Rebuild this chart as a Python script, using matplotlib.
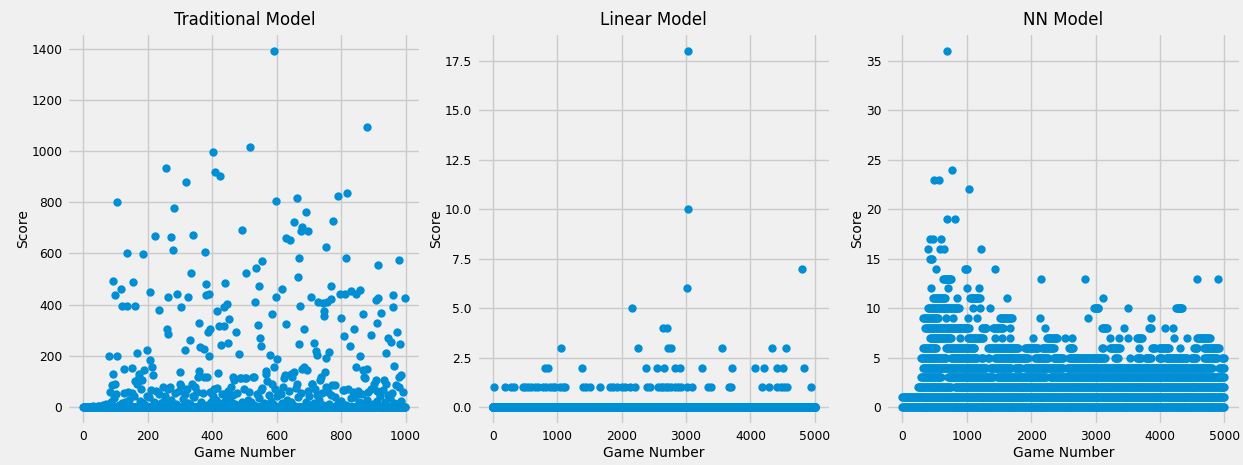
import numpy as np
import matplotlib
matplotlib.use('Agg')
import matplotlib.pyplot as plt

# --- Traditional model: 1000 games, score 0 unless listed ---
trad_n_games = 1000
trad_points = [
    (593, 1391), (879, 1095), (518, 1014), (404, 997), (256, 935), (409, 917),
    (425, 901), (320, 880), (623, 905), (677, 926), (791, 825), (819, 836),
    (104, 800), (599, 804), (662, 817), (282, 779), (690, 762), (946, 753),
    (654, 723), (775, 725), (680, 705), (677, 686), (696, 686), (918, 703),
    (492, 690), (224, 669), (272, 665), (342, 673), (466, 669), (418, 656),
    (628, 660), (640, 652), (280, 614), (379, 606), (135, 601), (184, 597),
    (754, 627), (979, 573), (809, 575), (816, 582), (670, 584), (554, 571),
    (151, 548), (166, 551), (855, 539), (946, 539), (535, 543), (466, 556),
    (915, 556), (506, 522), (335, 522), (665, 509), (92, 492), (155, 487),
    (382, 482), (440, 484), (117, 460), (99, 436), (207, 449), (769, 474),
    (544, 474), (617, 460), (797, 442), (813, 442), (832, 452), (846, 443),
    (860, 457), (980, 461), (263, 432), (324, 430), (292, 440), (380, 436),
    (389, 443), (597, 430), (705, 430), (908, 417), (913, 428), (960, 436),
    (997, 426), (125, 404), (136, 395), (119, 396), (161, 395), (236, 380),
    (303, 393), (415, 375), (437, 391), (446, 401), (520, 410), (533, 411),
    (566, 391), (585, 365), (728, 410), (743, 405), (757, 410), (768, 421),
    (671, 396), (746, 375), (747, 355), (800, 348), (855, 393), (866, 387),
    (867, 362), (925, 369), (962, 393), (911, 329), (358, 329), (388, 292),
    (394, 306), (420, 316), (438, 318), (451, 345), (467, 345), (475, 292),
    (541, 321), (550, 313), (630, 326), (648, 331), (686, 304), (839, 306),
    (808, 278), (894, 281), (946, 270), (973, 294), (956, 255), (984, 248),
    (158, 284), (259, 306), (262, 287), (332, 264), (427, 244), (449, 251),
    (316, 222), (363, 235), (375, 229), (547, 271), (551, 240), (668, 248),
    (716, 251), (826, 240), (940, 213), (857, 201), (79, 199), (105, 201),
    (390, 199), (464, 205), (484, 206), (503, 179), (602, 190), (580, 205),
    (721, 218), (725, 205), (763, 216), (752, 192), (166, 212), (197, 222),
    (208, 183), (212, 157), (215, 127), (301, 157), (300, 138), (91, 129),
    (127, 149), (151, 153), (160, 103), (174, 131), (190, 144), (304, 83),
    (337, 92), (355, 118), (359, 142), (383, 118), (418, 134), (466, 118),
    (485, 114), (503, 113), (528, 118), (568, 140), (570, 101), (625, 127),
    (648, 118), (653, 138), (679, 151), (694, 144), (710, 92), (734, 105),
    (751, 138), (782, 86), (805, 66), (845, 157), (869, 147), (881, 151),
    (875, 112), (907, 108), (912, 64), (902, 151), (933, 105), (964, 161),
    (980, 118), (978, 79), (90, 86), (103, 53), (84, 60), (100, 92),
    (125, 54), (150, 54), (172, 118), (182, 105), (167, 92), (209, 66),
    (234, 53), (270, 79), (301, 92), (317, 53), (348, 79), (374, 118),
    (416, 73), (436, 53), (467, 105), (488, 112), (464, 49), (395, 144),
    (504, 112), (529, 118), (566, 131), (592, 157), (587, 92), (623, 112),
    (643, 131), (664, 92), (685, 157), (711, 92), (737, 118), (753, 79),
    (773, 86), (809, 66), (840, 40), (871, 118), (902, 92), (939, 92),
    (970, 86), (985, 125), (944, 47), (882, 60), (726, 47), (612, 53),
    (550, 66),
    # mid-low cluster
    (140, 60), (178, 70), (198, 45), (226, 62), (246, 80), (264, 70),
    (284, 55), (296, 65), (322, 70), (340, 45), (352, 60), (370, 55),
    (392, 60), (406, 70), (430, 50), (448, 62), (458, 80), (478, 55),
    (498, 72), (515, 60), (538, 50), (556, 75), (575, 48), (596, 70),
    (606, 55), (620, 80), (638, 62), (660, 75), (674, 55), (698, 65),
    (720, 70), (740, 55), (758, 60), (770, 48), (790, 55), (822, 70),
    (836, 58), (852, 65), (866, 52), (892, 70), (918, 58), (930, 68),
    (958, 55), (992, 60),
    # low scores hugging the zero line
    (30, 3), (45, 5), (60, 8), (70, 12), (86, 20), (95, 35), (121, 15),
    (141, 30), (158, 45), (176, 25), (191, 10), (205, 38), (220, 20),
    (241, 15), (255, 42), (271, 28), (289, 12), (310, 33), (326, 18),
    (345, 40), (365, 22), (385, 8), (401, 45), (411, 30), (421, 15),
    (441, 25), (455, 38), (471, 12), (491, 20), (511, 30), (531, 10),
    (545, 35), (561, 18), (581, 25), (600, 42), (615, 15), (631, 28),
    (651, 10), (666, 38), (691, 22), (700, 45), (715, 15), (731, 30),
    (761, 12), (780, 40), (801, 25), (815, 8), (831, 35), (848, 50),
    (861, 18), (880, 30), (899, 12), (921, 42), (936, 20), (951, 35),
    (965, 15), (986, 25), (50, 6), (110, 10), (230, 8), (360, 6), (560, 5),
    (745, 7), (890, 9), (130, 22), (185, 18), (250, 25), (330, 12),
    (395, 20), (460, 15), (520, 22), (590, 14), (645, 20), (708, 10),
    (790, 18), (855, 22), (910, 25), (975, 12),
]

# --- Linear model: 5000 games, score 0 unless listed ---
lin_n_games = 5000
lin_points = [
    (16, 1), (182, 1), (286, 1), (327, 1), (467, 1), (494, 1), (545, 1),
    (597, 1), (649, 1), (701, 1), (779, 1), (831, 1), (883, 1), (935, 1),
    (971, 1), (1039, 1), (1091, 1), (1127, 1), (1402, 1), (1454, 1),
    (1506, 1), (1662, 1), (1818, 1), (1870, 1), (1921, 1), (1999, 1),
    (2051, 1), (2129, 1), (2207, 1), (2389, 1), (2441, 1), (2571, 1),
    (2612, 1), (2649, 1), (2690, 1), (2727, 1), (2768, 1), (2830, 1),
    (2882, 1), (2924, 1), (3012, 1), (3090, 1), (3339, 1), (3391, 1),
    (3672, 1), (3703, 1), (4180, 1), (4285, 1), (4414, 1), (4467, 1),
    (4518, 1), (4570, 1), (4934, 1),
    (805, 2), (857, 2), (1387, 2), (2379, 2), (2545, 2), (2652, 2),
    (2835, 2), (2908, 2), (3246, 2), (3713, 2), (4077, 2), (4217, 2),
    (4404, 2), (4503, 2), (4830, 2),
    (1064, 3), (2259, 3), (2716, 3), (2772, 3), (3557, 3), (4337, 3),
    (4545, 3),
    (2638, 4), (2700, 4), (2155, 5), (3022, 6), (4803, 7), (3025, 10),
    (3037, 18),
]

# --- NN model: runs of games sharing one score (start == end is one game) ---
nn_levels = [
    0, 1,
    2, 2,
    3, 3, 3, 3,
    4, 4, 4, 4, 4, 4,
    5, 5, 5, 5, 5, 5, 5, 5, 5, 5, 5, 5, 5, 5, 5, 5, 5, 5,
    6, 6, 6, 6, 6, 6, 6, 6, 6, 6, 6, 6, 6, 6,
    7, 7, 7, 7, 7, 7, 7, 7, 7, 7, 7, 7, 7, 7, 7, 7, 7, 7,
    8, 8, 8, 8, 8, 8, 8, 8, 8, 8,
    9, 9, 9, 9, 9, 9, 9, 9, 9,
    10, 10, 10, 10, 10, 10, 10,
    11, 11, 11, 11, 11,
    12, 12, 12, 12,
    13, 13, 13, 13, 13, 13,
    14, 14, 14,
    15, 16, 16, 16, 16, 17, 17, 17, 19, 19, 22, 23, 23, 24, 36,
]
nn_starts = [
    0, 0,
    244, 815,
    296, 711, 1465, 2295,
    322, 1361, 1750, 1906, 2560, 4918,
    296, 763, 1220, 1335, 1439, 2062, 2347, 2581, 3308, 3541, 3775, 3983, 4087, 4476, 4684, 2399, 4960, 3650,
    322, 685, 1335, 1906, 2165, 2581, 3100, 3230, 3671, 3879, 3983, 4310, 4528, 4684,
    425, 893, 1023, 1439, 1543, 1673, 2036, 2243, 2529, 2633, 3230, 3360, 3505, 3645, 4217, 4424, 4580, 2399,
    348, 1231, 1413, 1673, 2217, 3100, 3438, 3827, 4071, 4201,
    322, 685, 789, 1023, 1153, 1517, 2139, 2877, 3853,
    400, 1101, 1205, 1361, 2970, 3500, 4243,
    478, 841, 1049, 1621, 3116,
    452, 711, 997, 1188,
    633, 2155, 2830, 4569, 4907, 738,
    530, 980, 1445,
    426, 400, 582, 650, 1222, 426, 478, 608, 697, 821, 1040, 489, 572, 775, 686,
]
nn_ends = [
    5000, 5000,
    763, 5000,
    607, 1413, 2243, 5000,
    1309, 1698, 1854, 2500, 4814, 5000,
    685, 1153, 1257, 1361, 1958, 2269, 2451, 3152, 3360, 3541, 3879, 4035, 4424, 4580, 4892, 2503, 5000, 3720,
    529, 1127, 1802, 2114, 2373, 2659, 3126, 3386, 3671, 3931, 4139, 4310, 4580, 4918,
    763, 893, 1257, 1439, 1543, 1673, 2036, 2399, 2529, 2633, 3230, 3360, 3505, 3723, 4217, 4424, 4788, 2399,
    1049, 1309, 1569, 1673, 2217, 3178, 3438, 3863, 4071, 4201,
    555, 685, 789, 1023, 1153, 1699, 2139, 2877, 3853,
    893, 1101, 1205, 1361, 3048, 3500, 4362,
    659, 841, 1205, 1621, 3116,
    452, 711, 997, 1188,
    763, 2155, 2830, 4569, 4907, 738,
    530, 1023, 1445,
    468, 400, 582, 650, 1222, 426, 478, 608, 697, 821, 1040, 489, 572, 775, 686,
]

titles = ['Traditional Model', 'Linear Model', 'NN Model']
dot_color = '#008fd5'

plt.style.use('fivethirtyeight')
plt.rcParams['font.family'] = ['DejaVu Sans']

fig, axes = plt.subplots(1, 3, figsize=(12.43, 4.65), dpi=100)
fig.subplots_adjust(left=0.054, right=0.998, bottom=0.086, top=0.929, wspace=0.156)

# traditional
trad_games = np.arange(trad_n_games)
trad_scores = np.zeros(trad_n_games)
for g, s in trad_points:
    trad_scores[g] = s

# linear
lin_games = np.arange(lin_n_games)
lin_scores = np.zeros(lin_n_games)
for g, s in lin_points:
    lin_scores[g] = s

# nn: expand runs into game numbers
nn_x = []
nn_y = []
for lvl, a, b in zip(nn_levels, nn_starts, nn_ends):
    xs = np.arange(a, b + 1, 15) if b > a else np.array([a])
    nn_x.extend(xs)
    nn_y.extend([lvl] * len(xs))

series = [(trad_games, trad_scores), (lin_games, lin_scores), (np.array(nn_x), np.array(nn_y))]

for ax, (x, y), t in zip(axes, series, titles):
    ax.scatter(x, y, s=36, color=dot_color, linewidths=0)
    ax.set_title(t, fontsize=12, pad=6)
    ax.set_xlabel('Game Number', fontsize=10, labelpad=2)
    ax.set_ylabel('Score', fontsize=10, labelpad=1)
    ax.tick_params(labelsize=8.8)
    ax.grid(True, color='#cbcbcb', linewidth=1)

fig.savefig('out.png', dpi=100, facecolor=fig.get_facecolor())
